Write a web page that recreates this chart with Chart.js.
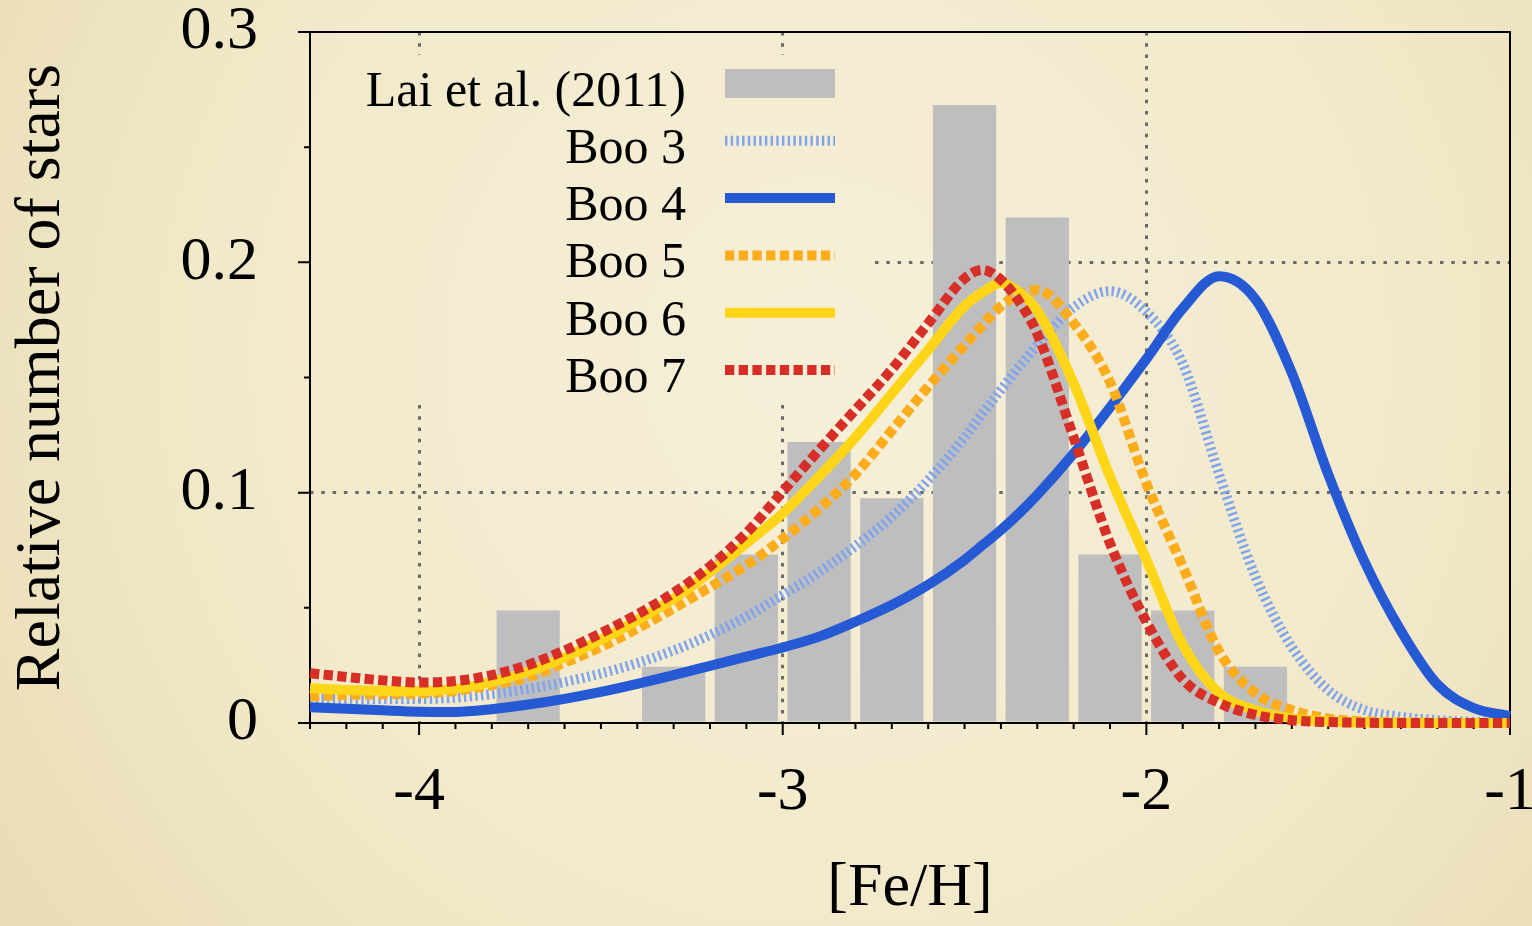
<!DOCTYPE html>
<html>
<head>
<meta charset="utf-8">
<script src="https://cdn.jsdelivr.net/npm/chart.js@4.4.1/dist/chart.umd.min.js"></script>
<style>
  html, body { margin: 0; padding: 0; background: #efe5c3; }
  canvas { display: block; }
</style>
</head>
<body>
<canvas id="chart" width="1532" height="926"></canvas>
<script>
// [Fe/H] sample points of the model curves
const feh = [-4.3, -4.2, -4.1, -4.0, -3.9, -3.8, -3.7, -3.6, -3.5, -3.4, -3.3, -3.2, -3.1, -3.0,
             -2.9, -2.8, -2.7, -2.6, -2.5, -2.45, -2.4, -2.35, -2.3, -2.2, -2.1, -2.0,
             -1.9, -1.8, -1.7, -1.6, -1.5, -1.4, -1.3, -1.2, -1.1, -1.0];

const boo3 = [0.0106, 0.0105, 0.0104, 0.0104, 0.0110, 0.0125, 0.0148, 0.0178, 0.0215, 0.0260, 0.0315, 0.0382, 0.0462, 0.0556,
              0.0655, 0.0768, 0.0896, 0.1055, 0.1240, 0.1345, 0.1446, 0.1547, 0.1640, 0.1805, 0.1875, 0.1785,
              0.1560, 0.1080, 0.0635, 0.0330, 0.0143, 0.0056, 0.0027, 0.0012, 0.0005, 0.0002];
const boo4 = [0.0068, 0.0062, 0.0055, 0.0049, 0.0048, 0.0060, 0.0080, 0.0105, 0.0135, 0.0170, 0.0208, 0.0248, 0.0288, 0.0328,
              0.0375, 0.0440, 0.0512, 0.0600, 0.0708, 0.0773, 0.0838, 0.0910, 0.0990, 0.1170, 0.1370, 0.1580,
              0.1800, 0.1940, 0.1840, 0.1520, 0.1080, 0.0700, 0.0400, 0.0168, 0.0065, 0.0030];
const boo5 = [0.0115, 0.0122, 0.0125, 0.0128, 0.0140, 0.0165, 0.0200, 0.0262, 0.0330, 0.0410, 0.0498, 0.0590, 0.0685, 0.0800,
              0.0930, 0.1080, 0.1270, 0.1460, 0.1640, 0.1728, 0.1810, 0.1860, 0.1880, 0.1736, 0.1480, 0.1040,
              0.0680, 0.0310, 0.0130, 0.0056, 0.0020, 0.0007, 0.0003, 0.0001, 0.0000, 0.0000];
const boo6 = [0.0152, 0.0143, 0.0140, 0.0138, 0.0148, 0.0178, 0.0223, 0.0285, 0.0362, 0.0447, 0.0540, 0.0655, 0.0780, 0.0910,
              0.1070, 0.1240, 0.1430, 0.1620, 0.1810, 0.1870, 0.1910, 0.1870, 0.1790, 0.1475, 0.1070, 0.0710,
              0.0340, 0.0130, 0.0056, 0.0020, 0.0007, 0.0002, 0.0001, 0.0000, 0.0000, 0.0000];
const boo7 = [0.0216, 0.0200, 0.0185, 0.0176, 0.0182, 0.0208, 0.0252, 0.0315, 0.0390, 0.0472, 0.0565, 0.0680, 0.0825, 0.1005,
              0.1185, 0.1360, 0.1535, 0.1735, 0.1930, 0.1967, 0.1924, 0.1830, 0.1690, 0.1240, 0.0780, 0.0440,
              0.0190, 0.0087, 0.0035, 0.0012, 0.0004, 0.0001, 0.0000, 0.0000, 0.0000, 0.0000];

// Lai et al. (2011) histogram
const laiBins = [-3.7, -3.5, -3.3, -3.1, -2.9, -2.7, -2.5, -2.3, -2.1, -1.9, -1.7];
const laiFrac = [0.0488, 0, 0.0244, 0.0732, 0.1220, 0.0976, 0.2683, 0.2195, 0.0732, 0.0488, 0.0244];

const xTicks = [-4, -3, -2, -1];
const yTicks = [0, 0.1, 0.2, 0.3];
const xGrid = [-4, -3, -2];
const yGrid = [0.1, 0.2];

const serif = "'Liberation Serif', 'Times New Roman', serif";
const gridGrey = '#6a6a6a';

function parchment(ctx) {
  const g = ctx.createRadialGradient(820, 360, 0, 820, 360, 1100);
  g.addColorStop(0, '#f6f0d9');
  g.addColorStop(0.55, '#f2e9ca');
  g.addColorStop(1, '#e7d9ae');
  return g;
}

function pts(ys) {
  return feh.map((x, i) => ({ x: x, y: ys[i] }));
}

const backdrop = {
  id: 'backdrop',
  beforeDraw(chart) {
    const ctx = chart.ctx;
    ctx.save();
    ctx.fillStyle = parchment(ctx);
    ctx.fillRect(0, 0, chart.width, chart.height);
    ctx.restore();
  }
};

// frame, tick marks and the key (key sits on a patch that hides the grid)
const frame = {
  id: 'frame',
  beforeDatasetsDraw(chart) {
    const ctx = chart.ctx;
    const a = chart.chartArea;
    const x = chart.scales.x, y = chart.scales.y;
    ctx.save();
    ctx.fillStyle = parchment(ctx);
    ctx.fillRect(a.left + 1, 55, 562, 345);

    ctx.strokeStyle = '#000';
    ctx.lineWidth = 2;
    ctx.strokeRect(a.left, a.top, a.right - a.left, a.bottom - a.top);

    ctx.beginPath();
    for (let i = -43; i <= -10; i++) {
      const px = x.getPixelForValue(i / 10);
      const len = i % 10 === 0 ? 12 : 6;
      ctx.moveTo(px, a.bottom);
      ctx.lineTo(px, a.bottom + len);
    }
    for (let i = 0; i <= 6; i++) {
      const py = y.getPixelForValue(i * 0.05);
      const len = i % 2 === 0 ? 12 : 6;
      ctx.moveTo(a.left, py);
      ctx.lineTo(a.left - len, py);
    }
    ctx.stroke();

    // key
    const textRight = 686, symLeft = 725, symLen = 110;
    ctx.font = '50px ' + serif;
    ctx.textAlign = 'right';
    ctx.textBaseline = 'alphabetic';
    chart.data.datasets.forEach((ds, i) => {
      const cy = 83.5 + i * 57.3;
      ctx.fillStyle = '#000';
      ctx.fillText(ds.label, textRight, cy + 22);
      if (ds.type === 'bar') {
        ctx.fillStyle = ds.backgroundColor;
        ctx.fillRect(symLeft, cy - 14.5, symLen, 29);
      } else {
        ctx.save();
        ctx.strokeStyle = ds.borderColor;
        ctx.lineWidth = ds.borderWidth;
        ctx.setLineDash(ds.borderDash || []);
        ctx.beginPath();
        ctx.moveTo(symLeft, cy);
        ctx.lineTo(symLeft + symLen, cy);
        ctx.stroke();
        ctx.restore();
      }
    });
    ctx.restore();
  }
};

function curve(label, ys, color, dash, order) {
  return {
    type: 'line',
    label: label,
    data: pts(ys),
    borderColor: color,
    borderWidth: 10,
    borderDash: dash,
    borderCapStyle: 'butt',
    borderJoinStyle: 'round',
    cubicInterpolationMode: 'monotone',
    pointRadius: 0,
    fill: false,
    clip: false,
    order: order
  };
}

new Chart(document.getElementById('chart'), {
  type: 'bar',
  data: {
    datasets: [
      {
        type: 'bar',
        label: 'Lai et al. (2011)',
        data: laiBins.map((x, i) => ({ x: x, y: laiFrac[i] })),
        backgroundColor: '#bebebe',
        borderWidth: 0,
        barPercentage: 0.87,
        categoryPercentage: 1,
        order: 10
      },
      curve('Boo 3', boo3, '#7fa4ef', [2.4, 3.3], 5),
      curve('Boo 4', boo4, '#2659d4', [], 4),
      curve('Boo 5', boo5, '#fdac1c', [9.3, 4.4], 3),
      curve('Boo 6', boo6, '#fed517', [], 2),
      curve('Boo 7', boo7, '#d72f28', [9.3, 4.4], 1)
    ]
  },
  options: {
    responsive: false,
    animation: false,
    events: [],
    layout: { padding: { top: 32, right: 22, left: 0, bottom: 0 } },
    plugins: { legend: { display: false }, tooltip: { enabled: false } },
    scales: {
      x: {
        type: 'linear',
        min: -4.3,
        max: -1,
        offset: false,
        afterBuildTicks: s => { s.ticks = xTicks.map(v => ({ value: v })); },
        afterFit: s => { s.height = 203; s.paddingLeft = 0; s.paddingRight = 0; },
        grid: {
          offset: false,
          drawTicks: false,
          lineWidth: 3,
          color: c => (c.tick && xGrid.includes(c.tick.value)) ? gridGrey : 'rgba(0,0,0,0)'
        },
        border: { display: false, dash: [3.5, 7.8] },
        ticks: {
          padding: 33,
          color: '#000',
          maxRotation: 0,
          autoSkip: false,
          font: { family: serif, size: 62 },
          callback: v => String(v)
        },
        title: {
          display: true,
          text: '[Fe/H]',
          color: '#000',
          font: { family: serif, size: 62 },
          padding: 0
        }
      },
      y: {
        min: 0,
        max: 0.3,
        afterBuildTicks: s => { s.ticks = yTicks.map(v => ({ value: v })); },
        afterFit: s => { s.width = 310; s.paddingTop = 0; s.paddingBottom = 0; },
        grid: {
          drawTicks: false,
          lineWidth: 3,
          color: c => (c.tick && yGrid.includes(c.tick.value)) ? gridGrey : 'rgba(0,0,0,0)'
        },
        border: { display: false, dash: [3.5, 7.8] },
        ticks: {
          padding: 52,
          color: '#000',
          font: { family: serif, size: 62 },
          callback: v => v === 0 ? '0' : v.toFixed(1)
        },
        title: {
          display: true,
          text: 'Relative number of stars',
          color: '#000',
          font: { family: serif, size: 64 },
          padding: { top: 4, bottom: 0 }
        }
      }
    }
  },
  plugins: [backdrop, frame]
});
</script>
</body>
</html>
